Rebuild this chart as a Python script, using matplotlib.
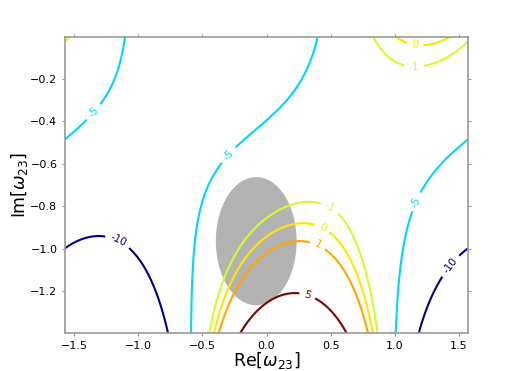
import numpy as np
import matplotlib
matplotlib.use('Agg')
import matplotlib.pyplot as plt
from matplotlib.patches import Ellipse

# contour levels and field coefficients
levels = [-10, -5, -1, 0, 1, 5]
offset = -4.65
amp_up, phase_up = 0.882, 0.40      # e^{2i w} term
amp_dn, phase_dn = 5.56, 2.58       # e^{-2i w} term

# grey disc
disc_centre = (-0.08, -0.965)
disc_size = (0.63, 0.605)

x = np.linspace(-np.pi / 2, np.pi / 2, 400)
y = np.linspace(-1.4, 0.0, 400)
X, Y = np.meshgrid(x, y)
W = X + 1j * Y
Z = offset + np.real(amp_up * np.exp(-1j * phase_up) * np.exp(2j * W)
                     + amp_dn * np.exp(1j * phase_dn) * np.exp(-2j * W))

fig = plt.figure(figsize=(5.2, 3.71), dpi=100)
ax = fig.add_axes([0.125, 0.1016, 0.775, 0.7994])

ax.add_patch(Ellipse(disc_centre, disc_size[0], disc_size[1],
                     facecolor='0.7', edgecolor='none', zorder=1))

cs = ax.contour(X, Y, Z, levels=levels, cmap='jet', vmin=-10, vmax=5,
                linewidths=1.5, zorder=2)
# where the labels sit on the lines
label_spots = [(-1.34, -0.36), (-0.31, -0.55), (1.17, -0.78),
               (-1.16, -0.965), (1.43, -1.08),
               (0.51, -0.79), (1.15, -0.14),
               (0.45, -0.885), (1.16, -0.04),
               (0.41, -0.97), (0.33, -1.20)]
ax.clabel(cs, fmt='%d', fontsize=7.5, inline=True, manual=label_spots)

ax.set_xlim(-np.pi / 2, np.pi / 2)
ax.set_ylim(-1.4, 0.0)
ax.set_xticks([-1.5, -1.0, -0.5, 0.0, 0.5, 1.0, 1.5])
ax.set_yticks([-1.2, -1.0, -0.8, -0.6, -0.4, -0.2])

for s in ax.spines.values():
    s.set_color('#999999')
    s.set_linewidth(1.2)
ax.tick_params(direction='out', length=2, color='#999999', labelsize=8,
               top=True, right=True)

ax.set_xlabel(r'Re[$\omega_{23}$]', fontsize=12.5, labelpad=-1)
ax.set_ylabel(r'Im[$\omega_{23}$]', fontsize=12.5, labelpad=0)

fig.savefig('out.png', dpi=100)
